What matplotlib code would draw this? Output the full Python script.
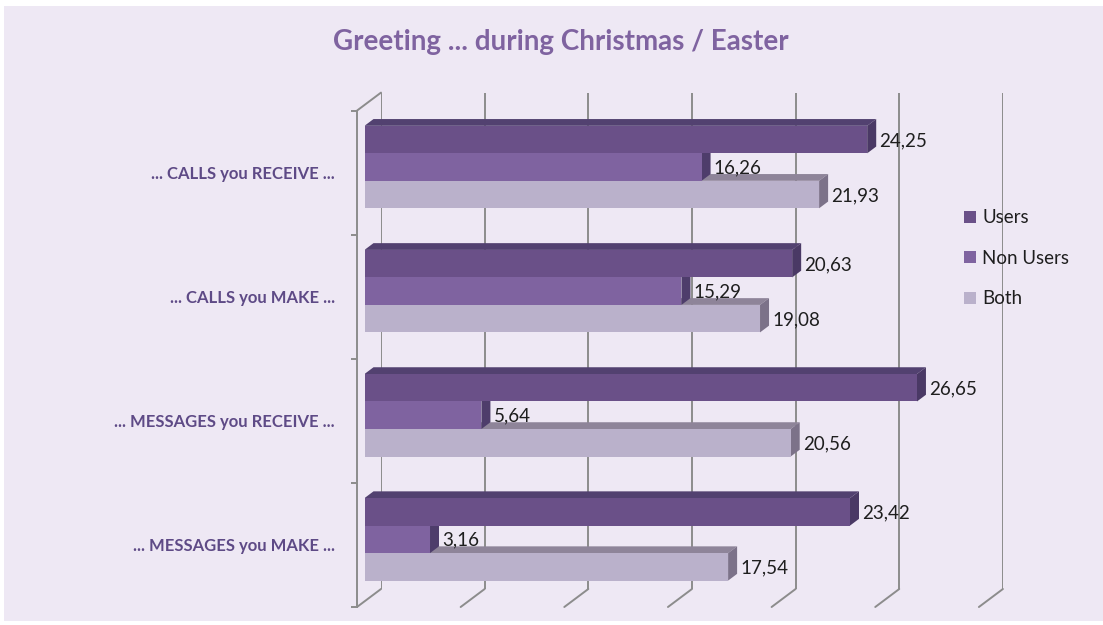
import matplotlib.pyplot as plt
import numpy as np
from matplotlib.patches import Polygon, Rectangle, Patch, ConnectionPatch

# Values per question, one list per respondent group
categories = ['... CALLS you RECEIVE ...', '... CALLS you MAKE ...',
              '... MESSAGES you RECEIVE ...', '... MESSAGES you MAKE ...']
series_names = ['Users', 'Non Users', 'Both']
users = [24.25, 20.63, 26.65, 23.42]
non_users = [16.26, 15.29, 5.64, 3.16]
both = [21.93, 19.08, 20.56, 17.54]

# face colours: front, top, side
colors = {
    'Users': ('#6a5088', '#524170', '#4a3965'),
    'Non Users': ('#7f63a0', '#5f4a80', '#4e3d6b'),
    'Both': ('#bab1cb', '#8e8499', '#7c7289'),
}

plt.rcParams['font.family'] = ['Lato', 'DejaVu Sans']

W, H = 1103, 625
fig = plt.figure(figsize=(W / 100, H / 100), dpi=100)
fig.patch.set_facecolor('white')
fig.patches.append(Rectangle((4 / W, 1 - 621 / H), 1, 615 / H, transform=fig.transFigure,
                             facecolor='#eee8f4', edgecolor='none', zorder=-5))


def px_rect(x0, top, w, h):
    return [x0 / W, 1 - (top + h) / H, w / W, h / H]


plot_w, plot_h = 621.9, 496.4
ax_back = fig.add_axes(px_rect(381, 92.6, plot_w, plot_h), zorder=0)
ax = fig.add_axes(px_rect(364.5, 105, plot_w, plot_h), zorder=1)
ax_front = fig.add_axes(px_rect(357, 110.6, plot_w, plot_h), zorder=2)

for a in (ax_back, ax, ax_front):
    a.set_xlim(0, 30)
    a.set_ylim(3.5, -0.5)
    a.patch.set_visible(False)
    for s in a.spines.values():
        s.set_visible(False)
    a.tick_params(left=False, bottom=False, labelleft=False, labelbottom=False)

grid_c = '#8c8c8c'
# back wall gridlines and floor edges
ax_back.set_xticks(np.arange(0, 31, 5))
ax_back.grid(axis='x', color=grid_c, linewidth=1.4)
for x in np.arange(0, 31, 5):
    fig.add_artist(ConnectionPatch(xyA=(x, 3.5), coordsA=ax_back.transData,
                                   xyB=(x, 3.5), coordsB=ax_front.transData,
                                   color=grid_c, linewidth=1.4))
fig.add_artist(ConnectionPatch(xyA=(0, -0.5), coordsA=ax_back.transData,
                               xyB=(0, -0.5), coordsB=ax_front.transData,
                               color=grid_c, linewidth=1.4))

# front category axis
ax_front.spines['left'].set_visible(True)
ax_front.spines['left'].set_color(grid_c)
ax_front.spines['left'].set_linewidth(1.4)
ax_front.set_yticks(np.arange(-0.5, 4, 1))
ax_front.set_yticks(np.arange(4), categories, minor=True)
ax_front.tick_params(axis='y', which='major', left=True, length=4.5, width=1.4, color=grid_c)
ax_front.tick_params(axis='y', which='minor', left=False, labelleft=True, pad=14,
                     labelsize=12, labelcolor='#5e4a86')
for t in ax_front.get_yticklabels(minor=True):
    t.set_fontweight('bold')

# 3D bars
bh = 0.2216
inv = ax.transData.inverted()
p0 = ax.transData.transform((0, 0))
ddx, ddy = inv.transform(p0 + np.array([9, 6.75])) - inv.transform(p0)

series = [('Both', both, 1), ('Non Users', non_users, 0), ('Users', users, -1)]
for name, vals, k in series:
    front, top_c, side_c = colors[name]
    for i, v in enumerate(vals):
        yc = i + k * bh
        top, bot = yc - bh / 2, yc + bh / 2
        ax.add_patch(Polygon([(0, top), (v, top), (v + ddx, top + ddy), (ddx, top + ddy)],
                             closed=True, facecolor=top_c, edgecolor='none'))
        ax.add_patch(Polygon([(v, top), (v, bot), (v + ddx, bot + ddy), (v + ddx, top + ddy)],
                             closed=True, facecolor=side_c, edgecolor='none'))
        ax.barh(yc, v, height=bh, color=front, edgecolor='none')
        ax.annotate(f'{v:.2f}'.replace('.', ','), xy=(v, yc), xytext=(12, -1),
                    textcoords='offset pixels', ha='left', va='center',
                    fontsize=13.5, color='#1e1e1e', annotation_clip=False)

handles = [Patch(facecolor=colors[n][0], edgecolor='none') for n in series_names]
fig.legend(handles, series_names, loc='upper left', frameon=False,
           bbox_to_anchor=(955 / W, 1 - 200 / H), fontsize=13.5,
           handlelength=0.6, handleheight=0.6, handletextpad=0.35,
           labelspacing=1.25, borderpad=0, labelcolor='#1e1e1e')

fig.text(561 / W, 1 - 42 / H, 'Greeting ... during Christmas / Easter', ha='center', va='center',
         fontsize=20, fontweight='bold', color='#7f63a0')

fig.savefig('out.png', dpi=100)
